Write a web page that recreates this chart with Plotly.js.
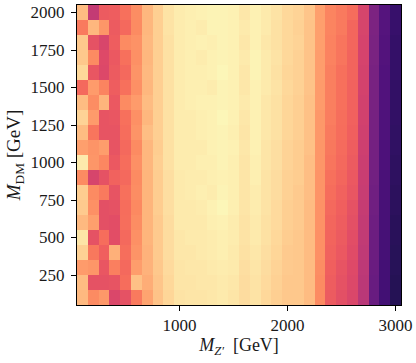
<!DOCTYPE html>
<html>
<head>
<meta charset="utf-8">
<script src="https://cdn.plot.ly/plotly-3.0.1.min.js"></script>
<style>
  html, body { margin: 0; padding: 0; background: #ffffff; }
  #plotContainer { width: 416px; height: 363px; }
</style>
</head>
<body>
<div id="plotContainer"></div>
<script>
// Z' mediator mass (columns) and DM mass (rows), GeV
const massZp = [ 100, 200, 300, 400, 500, 600, 700, 800, 900, 1000,
	1100, 1200, 1300, 1400, 1500, 1600, 1700, 1800, 1900, 2000,
	2100, 2200, 2300, 2400, 2500, 2600, 2700, 2800, 2900, 3000 ];

const massDM = [ 100, 200, 300, 400, 500, 600, 700, 800, 900, 1000,
	1100, 1200, 1300, 1400, 1500, 1600, 1700, 1800, 1900, 2000 ];

// one row per DM mass, bottom (100 GeV) to top (2000 GeV)
const rowsDM = [
	[ 0.855, 0.755, 0.785, 0.59, 0.62, 0.72, 0.81, 0.875, 0.915, 0.945, 0.95, 0.95, 0.955, 0.96, 0.95, 0.93, 0.945, 0.92, 0.90, 0.885, 0.885, 0.86, 0.755, 0.64, 0.615, 0.59, 0.505, 0.31, 0.215, 0.15 ],
	[ 0.86, 0.62, 0.62, 0.625, 0.69, 0.87, 0.83, 0.88, 0.92, 0.95, 0.95, 0.955, 0.955, 0.96, 0.955, 0.93, 0.945, 0.925, 0.905, 0.885, 0.885, 0.86, 0.755, 0.645, 0.62, 0.595, 0.51, 0.31, 0.22, 0.15 ],
	[ 0.79, 0.78, 0.63, 0.73, 0.68, 0.795, 0.84, 0.885, 0.925, 0.95, 0.955, 0.955, 0.96, 0.965, 0.96, 0.935, 0.95, 0.93, 0.91, 0.89, 0.885, 0.86, 0.76, 0.65, 0.625, 0.60, 0.515, 0.315, 0.22, 0.155 ],
	[ 0.905, 0.715, 0.65, 0.835, 0.695, 0.775, 0.84, 0.89, 0.93, 0.955, 0.955, 0.96, 0.965, 0.97, 0.96, 0.94, 0.955, 0.935, 0.915, 0.89, 0.885, 0.86, 0.765, 0.66, 0.635, 0.605, 0.52, 0.32, 0.225, 0.155 ],
	[ 0.95, 0.62, 0.69, 0.61, 0.68, 0.765, 0.845, 0.89, 0.93, 0.955, 0.96, 0.96, 0.965, 0.97, 0.965, 0.945, 0.96, 0.94, 0.92, 0.895, 0.885, 0.86, 0.765, 0.665, 0.64, 0.61, 0.525, 0.32, 0.225, 0.16 ],
	[ 0.855, 0.80, 0.615, 0.61, 0.695, 0.76, 0.845, 0.89, 0.93, 0.96, 0.96, 0.96, 0.97, 0.975, 0.965, 0.945, 0.96, 0.94, 0.925, 0.90, 0.89, 0.86, 0.77, 0.67, 0.645, 0.615, 0.53, 0.325, 0.23, 0.16 ],
	[ 0.89, 0.765, 0.615, 0.62, 0.69, 0.75, 0.845, 0.895, 0.935, 0.96, 0.96, 0.965, 0.975, 0.985, 0.97, 0.95, 0.965, 0.945, 0.925, 0.90, 0.89, 0.86, 0.77, 0.68, 0.65, 0.62, 0.535, 0.33, 0.23, 0.165 ],
	[ 0.895, 0.755, 0.72, 0.625, 0.70, 0.76, 0.845, 0.895, 0.935, 0.96, 0.965, 0.97, 0.965, 0.98, 0.97, 0.95, 0.965, 0.945, 0.93, 0.905, 0.89, 0.865, 0.775, 0.69, 0.66, 0.63, 0.54, 0.33, 0.235, 0.165 ],
	[ 0.755, 0.58, 0.62, 0.66, 0.68, 0.755, 0.845, 0.895, 0.935, 0.96, 0.965, 0.965, 0.97, 0.975, 0.97, 0.95, 0.97, 0.945, 0.93, 0.905, 0.895, 0.865, 0.775, 0.70, 0.67, 0.635, 0.545, 0.335, 0.235, 0.17 ],
	[ 0.96, 0.78, 0.745, 0.635, 0.69, 0.765, 0.85, 0.90, 0.94, 0.965, 0.965, 0.97, 0.97, 0.98, 0.97, 0.95, 0.97, 0.95, 0.935, 0.91, 0.895, 0.865, 0.78, 0.71, 0.68, 0.64, 0.55, 0.34, 0.24, 0.17 ],
	[ 0.80, 0.775, 0.795, 0.625, 0.68, 0.755, 0.85, 0.895, 0.94, 0.965, 0.965, 0.965, 0.975, 0.98, 0.975, 0.955, 0.975, 0.95, 0.935, 0.91, 0.895, 0.87, 0.78, 0.715, 0.685, 0.645, 0.555, 0.34, 0.24, 0.175 ],
	[ 0.86, 0.71, 0.625, 0.625, 0.69, 0.775, 0.865, 0.90, 0.94, 0.965, 0.965, 0.97, 0.975, 0.98, 0.97, 0.95, 0.975, 0.955, 0.94, 0.915, 0.90, 0.87, 0.785, 0.72, 0.69, 0.65, 0.56, 0.345, 0.245, 0.175 ],
	[ 0.91, 0.79, 0.625, 0.63, 0.70, 0.765, 0.85, 0.90, 0.94, 0.965, 0.965, 0.97, 0.975, 0.985, 0.975, 0.955, 0.975, 0.955, 0.94, 0.915, 0.90, 0.87, 0.785, 0.725, 0.695, 0.655, 0.565, 0.345, 0.245, 0.18 ],
	[ 0.86, 0.76, 0.845, 0.635, 0.755, 0.79, 0.86, 0.90, 0.94, 0.965, 0.97, 0.975, 0.975, 0.98, 0.975, 0.96, 0.975, 0.955, 0.94, 0.915, 0.90, 0.87, 0.79, 0.73, 0.70, 0.66, 0.565, 0.35, 0.25, 0.18 ],
	[ 0.68, 0.79, 0.74, 0.645, 0.70, 0.765, 0.85, 0.90, 0.94, 0.965, 0.97, 0.97, 0.965, 0.98, 0.975, 0.955, 0.975, 0.96, 0.945, 0.92, 0.905, 0.875, 0.79, 0.73, 0.70, 0.66, 0.57, 0.35, 0.25, 0.18 ],
	[ 0.92, 0.63, 0.595, 0.64, 0.68, 0.775, 0.855, 0.90, 0.94, 0.965, 0.97, 0.97, 0.975, 0.985, 0.975, 0.955, 0.98, 0.96, 0.94, 0.915, 0.905, 0.875, 0.795, 0.73, 0.70, 0.665, 0.57, 0.35, 0.25, 0.185 ],
	[ 0.885, 0.755, 0.60, 0.635, 0.70, 0.765, 0.85, 0.90, 0.94, 0.965, 0.97, 0.965, 0.975, 0.98, 0.975, 0.96, 0.98, 0.96, 0.945, 0.92, 0.905, 0.875, 0.795, 0.735, 0.71, 0.665, 0.575, 0.355, 0.255, 0.185 ],
	[ 0.885, 0.62, 0.585, 0.645, 0.755, 0.77, 0.855, 0.90, 0.94, 0.965, 0.97, 0.975, 0.97, 0.98, 0.975, 0.955, 0.975, 0.955, 0.94, 0.92, 0.91, 0.875, 0.80, 0.735, 0.71, 0.67, 0.575, 0.355, 0.255, 0.185 ],
	[ 0.72, 0.85, 0.78, 0.64, 0.68, 0.755, 0.85, 0.90, 0.945, 0.965, 0.97, 0.965, 0.98, 0.98, 0.975, 0.96, 0.975, 0.96, 0.94, 0.92, 0.905, 0.875, 0.80, 0.74, 0.72, 0.67, 0.58, 0.36, 0.26, 0.19 ],
	[ 0.86, 0.53, 0.64, 0.645, 0.70, 0.76, 0.85, 0.90, 0.945, 0.965, 0.97, 0.975, 0.98, 0.98, 0.975, 0.955, 0.975, 0.96, 0.945, 0.92, 0.91, 0.88, 0.80, 0.74, 0.72, 0.69, 0.58, 0.36, 0.26, 0.19 ]
];

const xTicks = [ 1000, 2000, 3000 ];
const yTicks = [ 250, 500, 750, 1000, 1250, 1500, 1750, 2000 ];

// matplotlib magma
const magma = [
	[ 0.0, '#000004' ], [ 0.1, '#140e36' ], [ 0.15, '#251255' ], [ 0.2, '#3b0f70' ],
	[ 0.25, '#51127c' ], [ 0.3, '#641a80' ], [ 0.35, '#782281' ], [ 0.4, '#8c2981' ],
	[ 0.45, '#a1307e' ], [ 0.5, '#b73779' ], [ 0.55, '#cb3e71' ], [ 0.6, '#de4968' ],
	[ 0.65, '#f05f5e' ], [ 0.7, '#f7705c' ], [ 0.75, '#fc8961' ], [ 0.8, '#fe9f6d' ],
	[ 0.85, '#feb77e' ], [ 0.9, '#fecf92' ], [ 0.95, '#fde5a7' ], [ 1.0, '#fcfdbf' ]
];

function createMassHeatmap() {

	const serif = 'Liberation Serif, DejaVu Serif, serif';

	let data = [
		{
			x: massZp,
			y: massDM,
			z: rowsDM,
			type: 'heatmap',
			colorscale: magma,
			zmin: 0,
			zmax: 1,
			showscale: false,
			hoverinfo: 'none'
		}
	];

	let axisStyle = {
		showline: true,
		mirror: true,
		linecolor: '#000000',
		linewidth: 1,
		ticks: 'outside',
		ticklen: 5,
		tickwidth: 1,
		tickcolor: '#000000',
		showgrid: false,
		zeroline: false,
		tickfont: { family: serif, size: 17, color: '#1a1a1a' }
	};

	let layout = {
		width: 416,
		height: 363,
		margin: { l: 77, r: 15, t: 5, b: 58 },
		paper_bgcolor: '#ffffff',
		plot_bgcolor: '#ffffff',
		xaxis: Object.assign( {}, axisStyle, {
			range: [ 50, 3050 ],
			tickvals: xTicks,
			title: { text: '<i>M</i><sub><i>Z′</i></sub>  [GeV]', font: { family: serif, size: 18, color: '#1a1a1a' }, standoff: 2 }
		} ),
		yaxis: Object.assign( {}, axisStyle, {
			range: [ 50, 2050 ],
			tickvals: yTicks,
			ticklabelstandoff: 3,
			title: { text: '<i>M</i><sub>DM</sub> [GeV]', font: { family: serif, size: 19, color: '#1a1a1a' }, standoff: 4 }
		} )
	};

	Plotly.newPlot( 'plotContainer', data, layout, { staticPlot: true } );

}

createMassHeatmap();
</script>
</body>
</html>
